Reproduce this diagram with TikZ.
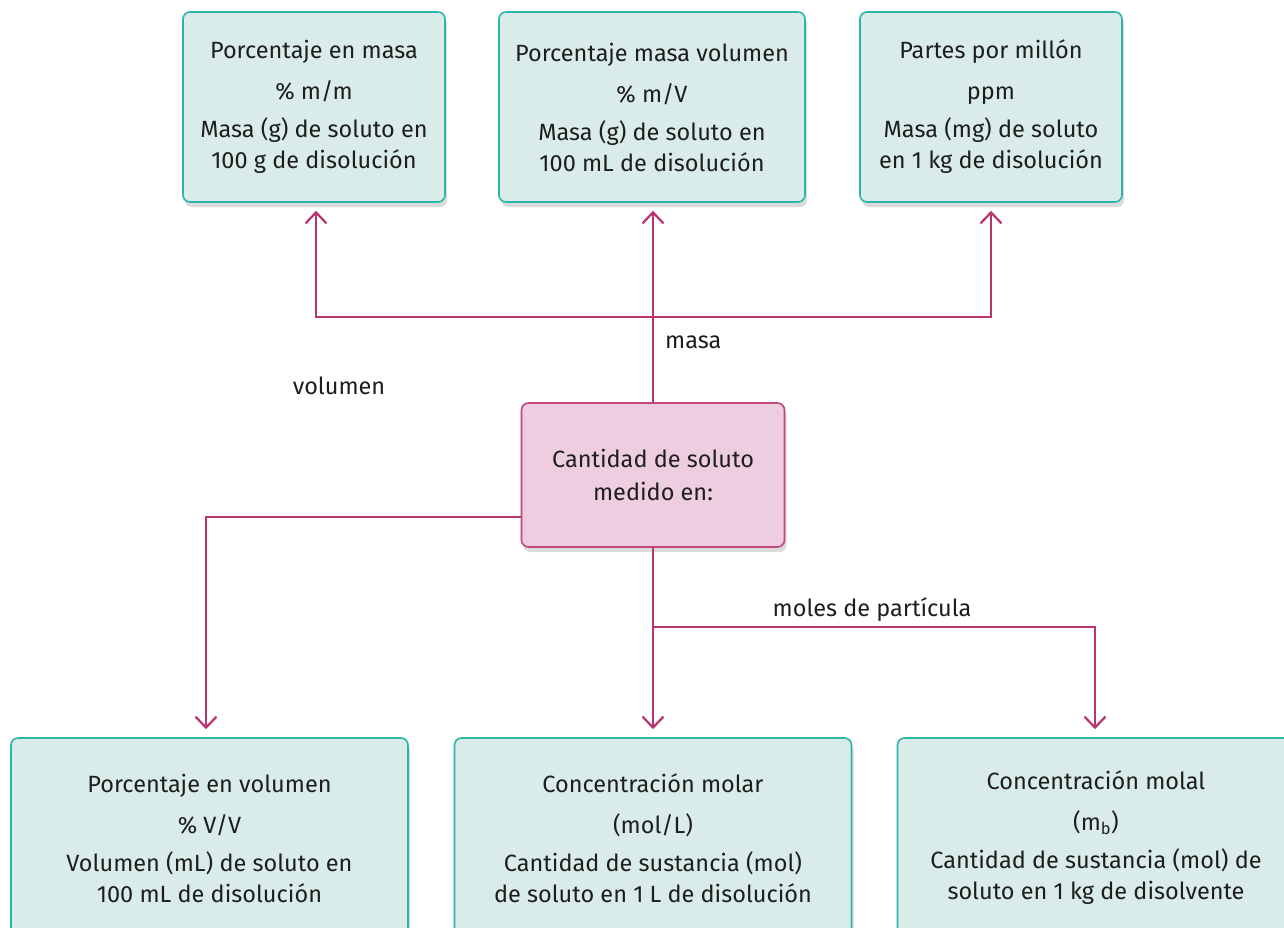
\documentclass[tikz,border=0pt]{standalone}
\usepackage{fontspec}
\setmainfont{Fira Sans}
\usetikzlibrary{arrows.meta,shadows,calc}
\definecolor{tealfill}{HTML}{D9ECE9}
\definecolor{tealline}{HTML}{2DB5AA}
\definecolor{pinkfill}{HTML}{EECDE0}
\definecolor{pinkline}{HTML}{C2467E}
\definecolor{conncol}{HTML}{B9336F}
\definecolor{txt}{HTML}{1E1E1E}
\tikzset{
  tbox/.style={draw=tealline, fill=tealfill, line width=1.6pt, rounded corners=7pt,
    align=center, text=txt, font=\fontsize{23.5}{31}\selectfont, inner sep=0pt,
    drop shadow={opacity=0.28, shadow xshift=2pt, shadow yshift=-5pt}},
  cbox/.style={draw=pinkline, fill=pinkfill, line width=1.6pt, rounded corners=7pt,
    align=center, text=txt, font=\fontsize{23.5}{33}\selectfont, inner sep=0pt,
    minimum width=263pt, minimum height=144pt,
    drop shadow={opacity=0.28, shadow xshift=2pt, shadow yshift=-5pt}},
  conn/.style={draw=conncol, line width=2.2pt},
  arr/.style={conn, -{Straight Barb[length=11pt,width=21pt,line width=2.2pt]}, shorten >=8pt},
  lab/.style={text=txt, font=\fontsize{23.5}{26}\selectfont, inner sep=0pt}
}
\begin{document}
\begin{tikzpicture}[x=1pt,y=-1pt]
\useasboundingbox (0,0) rectangle (1284,927);
\clip (0,0) rectangle (1284,927);
\fill[white] (0,0) rectangle (1284,927);
% top boxes
\node[tbox, minimum width=262pt, minimum height=190pt] (t1) at (314,107)
  {Porcentaje en masa\\[10pt]\% m/m\\[7pt]Masa (g) de soluto en\\100 g de disolución};
\node[tbox, minimum width=306pt, minimum height=190pt] (t2) at (652,107)
  {Porcentaje masa volumen\\[10pt]\% m/V\\[7pt]Masa (g) de soluto en\\100 mL de disolución};
\node[tbox, minimum width=262pt, minimum height=190pt] (t3) at (991,107)
  {Partes por millón\\[10pt]ppm\\[7pt]Masa (mg) de soluto\\en 1 kg de disolución};
% centre
\node[cbox] (c) at (653,475) {Cantidad de soluto\\medido en:};
% bottom boxes
\node[tbox, minimum width=397pt, minimum height=200pt] (b1) at (209.5,838)
  {Porcentaje en volumen\\[10pt]\% V/V\\[7pt]Volumen (mL) de soluto en\\100 mL de disolución};
\node[tbox, minimum width=397pt, minimum height=200pt] (b2) at (653,838)
  {Concentración molar\\[10pt](mol/L)\\[7pt]Cantidad de sustancia (mol)\\de soluto en 1 L de disolución};
\node[tbox, minimum width=397pt, minimum height=200pt] (b3) at (1096,838)
  {Concentración molal\\[10pt](m\textsubscript{b})\\[7pt]Cantidad de sustancia (mol) de\\soluto en 1 kg de disolvente};
% connectors
\coordinate (jm) at (c.north |- 0,317);
\coordinate (jv) at ($(c.west)+(0,42)$);
\coordinate (jp) at (c.south |- 0,627);
\draw[arr] (c.north) -- (c.north |- t2.south);
\draw[arr] (jm) -| (t1.south -| 316,0);
\draw[arr] (jm) -| (t3.south);
\draw[arr] (jv) -| (206,0 |- b1.north);
\draw[arr] (c.south) -- (c.south |- b2.north);
\draw[arr] (jp) -| (b3.north -| 1095,0);
% labels
\node[lab, anchor=west] (lm) at (665,342) {masa};
\node[lab] (lv) at (339,386) {volumen};
\node[lab] (lp) at (872,610) {moles de partícula};
\end{tikzpicture}
\end{document}
